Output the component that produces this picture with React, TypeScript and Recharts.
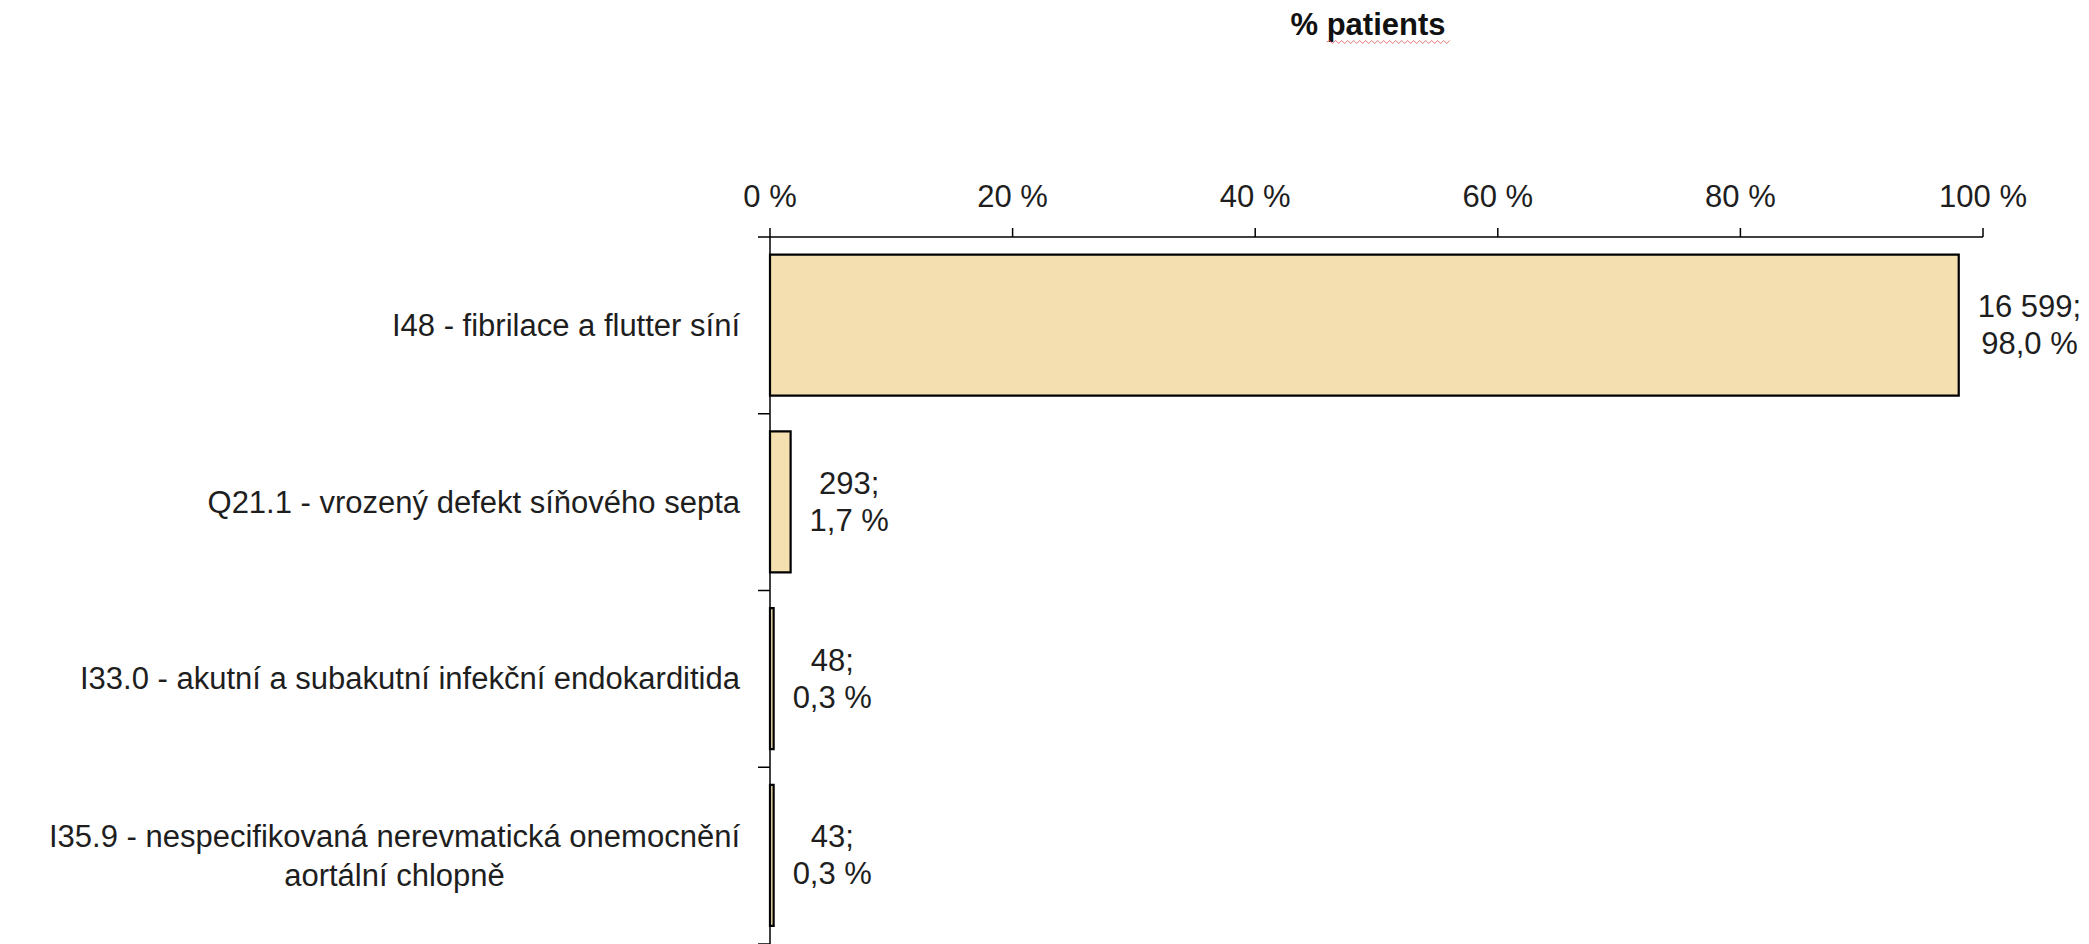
import React from "react";
import { BarChart, Bar, XAxis, YAxis, LabelList } from "recharts";

// ---- data ----
const categoryLines: string[][] = [
  ["I48 - fibrilace a flutter síní"],
  ["Q21.1 - vrozený defekt síňového septa"],
  ["I33.0 - akutní a subakutní infekční endokarditida"],
  ["I35.9 - nespecifikovaná nerevmatická onemocnění", "aortální chlopně"],
];
const patientCounts = [16599, 293, 48, 43];
const percentValues = [98.0, 1.7, 0.3, 0.3];
const xTicks = [0, 20, 40, 60, 80, 100];
const chartTitle = "% patients";

const data = categoryLines.map((lines, i) => ({
  name: lines.join(" "),
  pct: percentValues[i],
}));

// ---- style ----
const W = 2089;
const H = 944;
const FONT = "'Liberation Sans', Arial, sans-serif";
const FS = 31;
const TEXT = "#1e1e1e";
const BAR_FILL = "#F3DFB0";

let ctx: CanvasRenderingContext2D | null = null;
function measure(s: string, bold = false): number {
  if (typeof document === "undefined") return s.length * FS * 0.5;
  if (!ctx) ctx = document.createElement("canvas").getContext("2d");
  if (!ctx) return s.length * FS * 0.5;
  ctx.font = `${bold ? "bold " : ""}${FS}px ${FONT}`;
  return ctx.measureText(s).width;
}

const fmtCount = (n: number) =>
  String(n).replace(/\B(?=(\d{3})+(?!\d))/g, " ");
const fmtPct = (v: number) => v.toFixed(1).replace(".", ",") + " %";

const CategoryTick = (props: any) => {
  const { x, y, payload, index } = props;
  const lines = categoryLines[index] || [String(payload.value)];
  const half = payload && payload.offset ? payload.offset : 88.5;
  const lh = 39;
  const axisX = x + 30;
  const blockW = Math.max(...lines.map((l) => measure(l)));
  const right = x;
  const cx = right - blockW / 2;
  const startY = y - ((lines.length - 1) * lh) / 2;
  return (
    <g>
      <line x1={axisX - 12} x2={axisX} y1={y - half} y2={y - half} stroke="#000" strokeWidth={1.5} />
      {index === categoryLines.length - 1 && (
        <line x1={axisX - 12} x2={axisX} y1={y + half} y2={y + half} stroke="#000" strokeWidth={1.5} />
      )}
      {lines.map((l, i) => (
        <text
          key={i}
          x={lines.length > 1 ? cx : right}
          y={startY + i * lh}
          textAnchor={lines.length > 1 ? "middle" : "end"}
          dominantBaseline="central"
          fontFamily={FONT}
          fontSize={FS}
          fill={TEXT}
        >
          {l}
        </text>
      ))}
    </g>
  );
};

const BarValueLabel = (props: any) => {
  const { x, y, width, height, index } = props;
  const l1 = fmtCount(patientCounts[index]) + ";";
  const l2 = fmtPct(percentValues[index]);
  const blockW = Math.max(measure(l1), measure(l2));
  const cx = Number(x) + Number(width) + 19 + blockW / 2;
  const cy = Number(y) + Number(height) / 2;
  return (
    <g>
      <text x={cx} y={cy - 18.5} textAnchor="middle" dominantBaseline="central" fontFamily={FONT} fontSize={FS} fill={TEXT}>
        {l1}
      </text>
      <text x={cx} y={cy + 18.5} textAnchor="middle" dominantBaseline="central" fontFamily={FONT} fontSize={FS} fill={TEXT}>
        {l2}
      </text>
    </g>
  );
};

function wavyPath(x0: number, x1: number, y: number): string {
  let d = `M ${x0} ${y}`;
  const step = 3;
  let up = true;
  for (let x = x0 + step; x <= x1; x += step) {
    d += ` L ${x} ${y + (up ? -1.5 : 1.5)}`;
    up = !up;
  }
  return d;
}

export default function App() {
  const titleW = measure(chartTitle, true);
  const titleCx = 1368;
  const wordStart = titleCx - titleW / 2 + measure("% ", true);
  return (
    <div style={{ position: "absolute", left: 0, top: 0, width: W, height: H, background: "#fff", fontFamily: FONT }}>
      <svg width={W} height={60} style={{ position: "absolute", left: 0, top: 0 }}>
        <text x={titleCx} y={35} textAnchor="middle" fontFamily={FONT} fontSize={FS} fontWeight="bold" fill="#111">
          {chartTitle}
        </text>
        <path d={wavyPath(wordStart, titleCx + titleW / 2 + 6, 42)} stroke="#d9534f" strokeWidth={1} fill="none" opacity={0.8} />
      </svg>
      <div style={{ position: "absolute", left: 0, top: 0 }}>
        <BarChart
          width={W}
          height={H}
          data={data}
          layout="vertical"
          margin={{ top: 0, right: 106, bottom: 0, left: 0 }}
          barCategoryGap="10%"
        >
          <XAxis
            type="number"
            orientation="top"
            domain={[0, 100]}
            ticks={xTicks}
            interval={0}
            height={237}
            tickSize={9}
            tickMargin={21}
            tickFormatter={(v: number) => `${v} %`}
            tick={{ fontFamily: FONT, fontSize: FS, fill: TEXT }}
            axisLine={{ stroke: "#000", strokeWidth: 1.5 }}
            tickLine={{ stroke: "#000", strokeWidth: 1.5 }}
          />
          <YAxis
            type="category"
            dataKey="name"
            width={770}
            tickSize={0}
            tickMargin={30}
            tickLine={false}
            interval={0}
            axisLine={{ stroke: "#000", strokeWidth: 1.5 }}
            tick={<CategoryTick />}
          />
          <Bar dataKey="pct" fill={BAR_FILL} stroke="#000" strokeWidth={2.2} isAnimationActive={false}>
            <LabelList dataKey="pct" content={<BarValueLabel />} />
          </Bar>
        </BarChart>
      </div>
    </div>
  );
}
